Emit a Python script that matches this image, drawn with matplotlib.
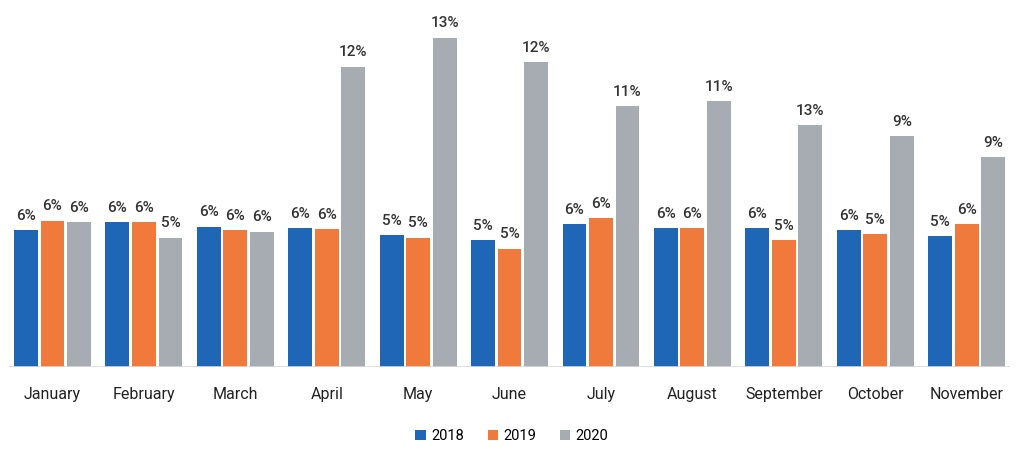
import matplotlib
matplotlib.use("Agg")
import matplotlib.pyplot as plt
import numpy as np

plt.rcParams['font.family'] = ['Roboto', 'DejaVu Sans']

months = ['January', 'February', 'March', 'April', 'May', 'June', 'July',
          'August', 'September', 'October', 'November']
years = ['2018', '2019', '2020']

# bar heights
v2018 = [5.6, 5.95, 5.75, 5.7, 5.4, 5.2, 5.85, 5.7, 5.7, 5.6, 5.35]
v2019 = [6.0, 5.95, 5.6, 5.65, 5.3, 4.85, 6.1, 5.7, 5.2, 5.45, 5.85]
v2020 = [5.95, 5.3, 5.55, 12.3, 13.5, 12.5, 10.7, 10.9, 9.9, 9.45, 8.6]

# printed labels (source labels don't always match the bar heights)
lab2018 = [6, 6, 6, 6, 5, 5, 6, 6, 6, 6, 5]
lab2019 = [6, 6, 6, 6, 5, 5, 6, 6, 5, 5, 6]
lab2020 = [6, 5, 6, 12, 13, 12, 11, 11, 13, 9, 9]

colors = ['#1f67b6', '#f07a3b', '#a7abb2']

fig = plt.figure(figsize=(10.24, 4.51), dpi=100)
ax = fig.add_axes([0.0066, 0.186, 0.982, 0.812])

x = np.arange(len(months))
w = 0.26
offs = [-0.29, 0.0, 0.29]
series = [v2018, v2019, v2020]
labels = [lab2018, lab2019, lab2020]

for k in range(3):
    bars = ax.bar(x + offs[k], series[k], width=w, color=colors[k], label=years[k])
    for b, l in zip(bars, labels[k]):
        ax.text(b.get_x() + b.get_width() / 2, b.get_height() + 0.3, f'{l}%',
                ha='center', va='bottom', fontsize=11, color='#333333',
                fontweight='medium')

ax.set_xlim(-0.5, 10.5)
ax.set_ylim(0, 15)
ax.axhline(0, xmin=0.003, xmax=0.997, color='#d9d9d9', lw=1.2)
for s in ax.spines.values():
    s.set_visible(False)
ax.set_yticks([])
ax.set_xticks(x)
ax.set_xticklabels(months, fontsize=11.5, color='#222222')
ax.tick_params(axis='x', length=0, pad=14)

fig.legend(loc='center', bbox_to_anchor=(0.5, 0.033), ncol=3, frameon=False,
           fontsize=10.5, handlelength=0.7, handleheight=0.7, handletextpad=0.4,
           columnspacing=1.6)

fig.savefig('out.png', dpi=100)
